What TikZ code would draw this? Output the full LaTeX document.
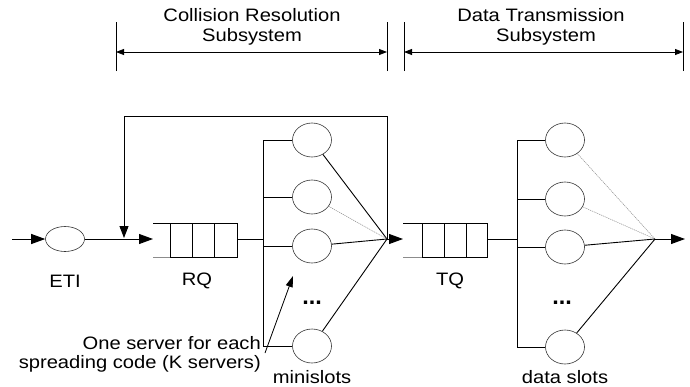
\documentclass[tikz,border=0pt]{standalone}
\usepackage{fontspec}
\setmainfont{Liberation Sans}
\usetikzlibrary{arrows.meta,shapes.geometric}
\newcommand{\wide}[1]{\scalebox{1.12}[1]{#1}}
\tikzset{
  lbl/.style={inner sep=0pt, font=\fontsize{18}{22}\selectfont},
  srv/.style={ellipse, draw=black!80, line width=0.6pt, minimum width=39pt, minimum height=34pt, inner sep=0pt},
  flow/.style={line width=0.9pt},
  tip/.style={-{Triangle[length=14pt,width=10pt]}},
  faint/.style={draw=black!45, line width=0.5pt, dash pattern=on 1.2pt off 0.8pt},
  span/.style={line width=0.8pt, {Triangle[length=8pt,width=6pt]}-{Triangle[length=8pt,width=6pt]}},
  tick/.style={line width=0.8pt}
}
\begin{document}
\begin{tikzpicture}[x=1pt,y=-1pt]
\useasboundingbox (0,0) rectangle (690,386);

% subsystem titles
\node[lbl] (t1a) at (252,15) {\wide{Collision Resolution}};
\node[lbl] (t1b) at (252,37) {\wide{Subsystem}};
\node[lbl] (t2a) at (541,15) {\wide{Data Transmission}};
\node[lbl] (t2b) at (546,37) {\wide{Subsystem}};

% extent markers
\coordinate (b1) at (116,52);
\coordinate (b2) at (387,52);
\coordinate (b3) at (404,52);
\coordinate (b4) at (683,52);
\foreach \c in {b1,b2,b3,b4}
  \draw[tick] ([yshift=-19pt]\c) -- ([yshift=30pt]\c);
\draw[span] (b1) -- (b2);
\draw[span] (b3) -- (b4);

% arrival and ETI
\coordinate (src) at (12,239);
\node[srv, minimum height=25pt] (eti) at (65,239) {};
\node[lbl] (etil) at (65,281) {\wide{ETI}};
\draw[flow,tip] (src) -- (eti);

% RQ queue
\coordinate (rqin) at (153,239);
\coordinate (rqout) at (237,239);
\draw[line width=0.8pt] (153,223) -- (237,223) -- (237,257) -- (170,257);
\draw[line width=0.8pt, black!45] (170,257) -- (153,257);
\foreach \x in {170,192,214}
  \draw[line width=0.8pt] (\x,223) -- (\x,257);
\node[lbl] (rql) at (197,281) {\wide{RQ}};
\draw[flow,tip] (eti) -- (rqin);

% minislot servers
\node[srv] (m1) at (312,140) {};
\node[srv] (m2) at (312,197) {};
\node[srv] (m3) at (312,246) {};
\node[srv] (m4) at (312,346) {};
\node[lbl] (mdots) at (312,303) {\textbf{\scalebox{1.3}{...}}};
\node[lbl] (ml) at (312,377) {\wide{minislots}};
\coordinate (mbus) at (263,239);
\draw[flow] (rqout) -- (mbus);
\draw[flow] (263,140) -- (263,346);
\foreach \s in {m1,m2,m3,m4}
  \draw[flow] (263,0 |- \s) -- (\s);
\coordinate (mj) at (387,239);
\draw[flow] (m1) -- (mj);
\draw[faint] (m2) -- (mj);
\draw[flow] (m3) -- (mj);
\draw[flow] (m4) -- (mj);

% retransmission loop
\coordinate (fb1) at (387,116);
\coordinate (fb2) at (124,116);
\coordinate (fbin) at (124,238);
\draw[flow,-{Triangle[length=12pt,width=9pt]}] (mj) -- (fb1) -- (fb2) -- (fbin);

% TQ queue
\coordinate (tqin) at (403,239);
\coordinate (tqout) at (487,239);
\draw[flow,tip] (mj) -- (tqin);
\draw[line width=0.8pt] (403,223) -- (487,223) -- (487,257) -- (422,257);
\draw[line width=0.8pt, black!45] (422,257) -- (403,257);
\foreach \x in {422,444,466}
  \draw[line width=0.8pt] (\x,223) -- (\x,257);
\node[lbl] (tql) at (450,281) {\wide{TQ}};

% data slot servers
\node[srv] (d1) at (565,140) {};
\node[srv] (d2) at (565,199) {};
\node[srv] (d3) at (565,247) {};
\node[srv] (d4) at (565,347) {};
\node[lbl] (ddots) at (562,303) {\textbf{\scalebox{1.3}{...}}};
\node[lbl] (dl) at (565,377) {\wide{data slots}};
\coordinate (dbus) at (517,239);
\draw[flow] (tqout) -- (dbus);
\draw[flow] (517,140) -- (517,347);
\foreach \s in {d1,d2,d3,d4}
  \draw[flow] (517,0 |- \s) -- (\s);
\coordinate (dj) at (655,239);
\coordinate (dout) at (685,239);
\draw[faint] (d1) -- (dj);
\draw[faint] (d2) -- (dj);
\draw[flow] (d3) -- (dj);
\draw[flow] (d4) -- (dj);
\draw[flow,tip] (dj) -- (dout);

% annotation
\node[lbl, anchor=east] (n1) at (261,343) {\wide{One server for each}};
\node[lbl, anchor=east] (n2) at (261,364) {\wide{spreading code (K servers)}};
\coordinate (nfrom) at (265,353);
\coordinate (nto) at (293,276);
\draw[line width=0.8pt, -{Triangle[length=11pt,width=7pt]}] (nfrom) -- (nto);
\end{tikzpicture}
\end{document}
